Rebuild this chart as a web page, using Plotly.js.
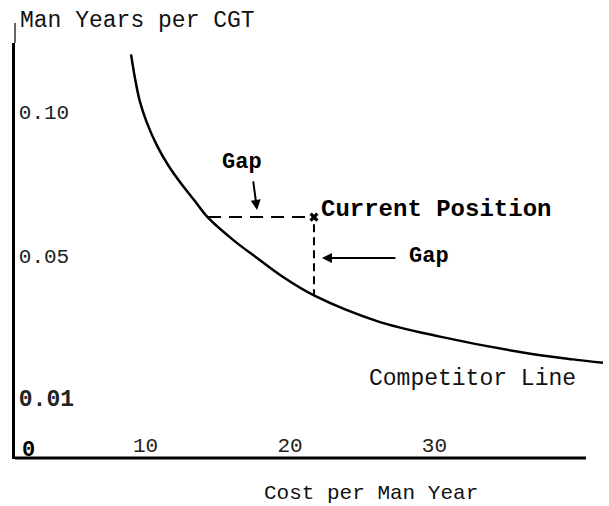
<!DOCTYPE html>
<html>
<head>
<meta charset="utf-8">
<script src="https://cdn.plot.ly/plotly-3.0.1.min.js"></script>
<style>html,body{margin:0;padding:0;background:#fff;}#chart{width:609px;height:506px;}</style>
</head>
<body>
<div id="chart"></div>
<script>
// Competitor line (cost per man year vs man years per CGT)
const costPerManYear = [9.00, 9.27, 9.62, 10.08, 10.78, 11.56, 12.53, 13.43, 14.33, 16.06, 17.72, 19.52, 21.66, 26.02, 30.38, 36.12, 39.58, 41.66];
const manYearsPerCGT = [0.1200, 0.1118, 0.1035, 0.0965, 0.0885, 0.0816, 0.0747, 0.0690, 0.0633, 0.0556, 0.0493, 0.0427, 0.0363, 0.0274, 0.0220, 0.0165, 0.0141, 0.0129];

// Current position and the matching competitor values
const currentCost = 21.66;
const currentManYears = 0.0635;
const competitorCostAtCurrent = 14.33;     // same man years, on competitor line
const competitorManYearsAtCurrent = 0.0363; // same cost, on competitor line

// Axis ticks
const xTickVals = [10, 20, 30];
const xTickText = ["10", "20", "30"];
const yTickVals = [0.10, 0.05, 0.00035];
const yTickText = ["0.10", "0.05", "<b><span style='font-size:23px'>0.01</span></b>"];
const yZeroLabel = "<b>0</b>";
const yZeroPos = -0.0177;

const FONT = "Liberation Mono, Courier New, monospace";

const traces = [
  {
    x: costPerManYear, y: manYearsPerCGT, type: "scatter", mode: "lines",
    line: {color: "#000", width: 2.5, shape: "spline", smoothing: 1},
    hoverinfo: "skip"
  },
  {
    x: [competitorCostAtCurrent, currentCost], y: [currentManYears, currentManYears],
    type: "scatter", mode: "lines",
    line: {color: "#000", width: 2, dash: "13px,8px"}, hoverinfo: "skip"
  },
  {
    x: [currentCost, currentCost], y: [currentManYears - 0.0025, competitorManYearsAtCurrent],
    type: "scatter", mode: "lines",
    line: {color: "#000", width: 2, dash: "8px,5px"}, hoverinfo: "skip"
  },
  {
    x: [currentCost], y: [currentManYears], type: "scatter", mode: "markers",
    marker: {symbol: "x", size: 8, color: "#000"}, cliponaxis: false, hoverinfo: "skip"
  }
];

const layout = {
  width: 609, height: 506,
  margin: {l: 15, r: 3, t: 43, b: 47, pad: 0},
  paper_bgcolor: "#fff", plot_bgcolor: "#fff",
  showlegend: false,
  font: {family: FONT, color: "#000", size: 21},
  xaxis: {
    range: [0.969, 41.87], showgrid: false, zeroline: false, showline: false,
    tickmode: "array", tickvals: xTickVals, ticktext: xTickText,
    ticks: "", ticklabelposition: "inside",
    tickfont: {family: FONT, size: 21, color: "#222"}
  },
  yaxis: {
    range: [-0.02049, 0.12396], showgrid: false, zeroline: false,
    showline: true, linecolor: "#000", linewidth: 3,
    tickmode: "array", tickvals: yTickVals, ticktext: yTickText,
    ticks: "", ticklabelposition: "inside", ticklabelstandoff: 5,
    tickfont: {family: FONT, size: 21, color: "#222"}
  },
  shapes: [
    {type: "line", xref: "paper", yref: "paper", x0: 0, x1: 0.966, y0: 0.0024, y1: 0.0024,
     line: {color: "#000", width: 3}},
    {type: "line", xref: "paper", yref: "paper", x0: 0, x1: 0, y0: 1.0, y1: 1.048,
     line: {color: "#000", width: 1.2}}
  ],
  annotations: [
    {xref: "paper", yref: "paper", x: 0.005, y: 1.054, xanchor: "left", yanchor: "middle",
     text: "Man Years per CGT", showarrow: false, font: {family: FONT, size: 23, color: "#111"}},
    {xref: "paper", yref: "paper", x: 0.603, y: -0.084, xanchor: "center", yanchor: "middle",
     text: "Cost per Man Year", showarrow: false, font: {family: FONT, size: 21, color: "#111"}},
    {xref: "paper", yref: "y", x: 0.009, y: yZeroPos, xanchor: "left", yanchor: "middle",
     text: yZeroLabel, showarrow: false, font: {family: FONT, size: 22, color: "#000"}},
    {x: 16.68, y: 0.0823, text: "<b>Gap</b>", showarrow: false, xanchor: "center", yanchor: "middle",
     font: {family: FONT, size: 22, color: "#000"}},
    {x: 17.72, y: 0.0660, ax: -4, ay: -30, text: "", showarrow: true,
     arrowhead: 2, arrowsize: 1, arrowwidth: 2, arrowcolor: "#000"},
    {x: 22.0, y: 0.0663, text: "<b>Current Position</b>", showarrow: false, xanchor: "left", yanchor: "middle",
     font: {family: FONT, size: 24, color: "#000"}},
    {x: 29.62, y: 0.0497, text: "<b>Gap</b>", showarrow: false, xanchor: "center", yanchor: "middle",
     font: {family: FONT, size: 22, color: "#000"}},
    {x: 22.21, y: 0.0493, ax: 75, ay: 0, text: "", showarrow: true,
     arrowhead: 2, arrowsize: 1, arrowwidth: 2, arrowcolor: "#000"},
    {x: 32.6, y: 0.0072, text: "Competitor Line", showarrow: false, xanchor: "center", yanchor: "middle",
     font: {family: FONT, size: 23, color: "#111"}}
  ]
};

Plotly.newPlot("chart", traces, layout, {staticPlot: true, displayModeBar: false});
</script>
</body>
</html>
